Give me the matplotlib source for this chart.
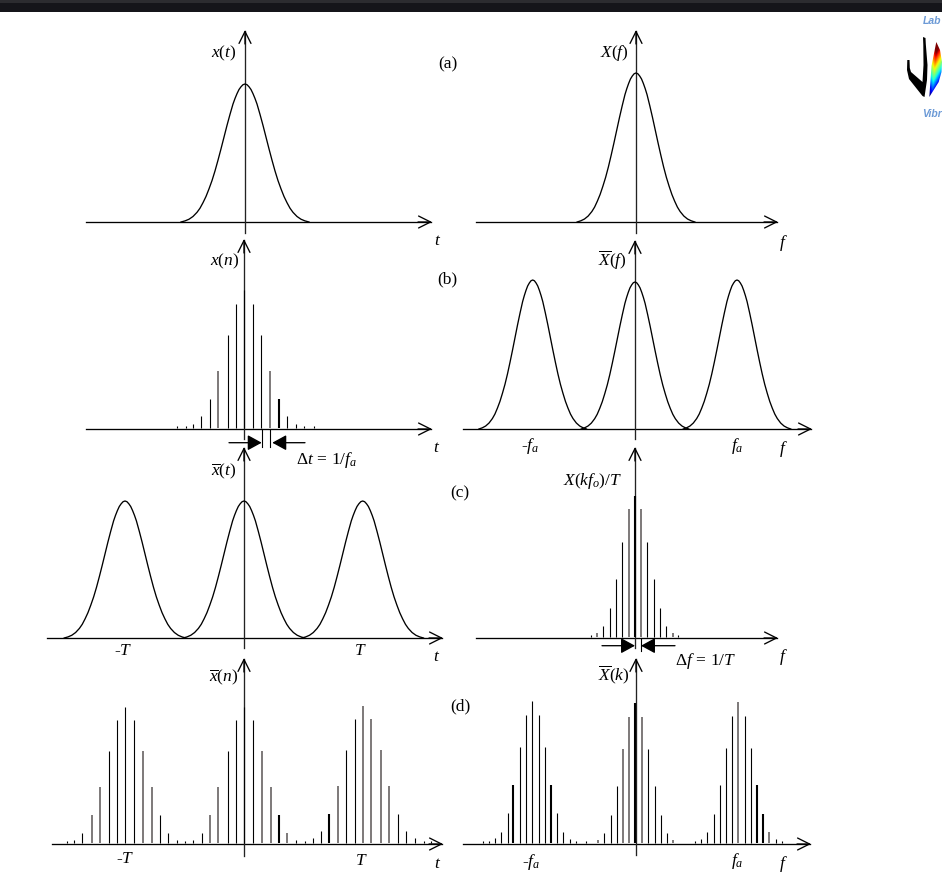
import numpy as np
import matplotlib
matplotlib.use("Agg")
import matplotlib.pyplot as plt
from matplotlib.patches import Polygon, Rectangle

plt.rcParams['font.family'] = ['Liberation Serif', 'DejaVu Serif']
plt.rcParams['mathtext.fontset'] = 'custom'
plt.rcParams['mathtext.rm'] = 'Liberation Serif'
plt.rcParams['mathtext.it'] = 'Liberation Serif:italic'
plt.rcParams['mathtext.bf'] = 'Liberation Serif:bold'

W, H = 942, 881

# one side of the pulse shape
pulse_dx = [0, 2, 4, 6, 8, 10, 12, 15, 18, 21, 24, 27, 30, 33, 36, 39, 42, 45, 48, 52, 56, 60, 64]
pulse_amp = [1, .995, .98, .96, .93, .895, .855, .78, .70, .615, .53, .448, .37, .30,
             .24, .185, .14, .10, .07, .04, .02, .008, 0]

xn_pos = [-67.5, -58.5, -51, -43, -33.5, -25.5, -16, -8, 0, 9, 17.5, 26.5, 35, 43, 52, 60, 70]
xn_val = [1, 1.5, 5, 13, 30, 58, 94, 125, 139, 125, 94, 58, 30, 13, 5, 1.5, 1]

Xk_pos = [-43.7, -37.7, -32, -25, -18.7, -12.7, -6, 0, 6.3, 12, 19.3, 25, 31, 37.7, 43]
Xk_val = [1, 5, 12, 30, 59, 96, 129, 142, 129, 96, 59, 30, 12, 5, 1]

xbar_pos = [-177.3, -169.7, -161.7, -152.3, -144.3, -134.7, -126.7, -118.7, -109.7, -101.3,
            -92.3, -83.7, -76, -66.7, -58.7, -50.7, -42.3, -33.7, -25.7, -16, -8, 0,
            9.3, 17.7, 27, 35, 43, 52, 60.7, 68.7, 76.7, 85, 93.7, 101.7, 111.3, 119.3,
            127.3, 136.7, 144.7, 154, 162.3, 170.7, 179.7, 187.3]
xbar_val = [1, 4, 11, 29, 57, 93, 124, 137, 124, 93, 57, 29, 11, 4, 1, 4, 11, 29, 57, 93, 124,
            137, 124, 93, 57, 29, 11, 4, 1.5, 6, 13, 30, 58, 94, 125, 138, 125, 94, 58, 30,
            13, 6, 1.5, 1]

Xbar_pos = [-153.3, -147.3, -141.3, -135.3, -128.3, -122.7, -116.3, -110.3, -104.3, -97.3,
            -91.3, -85, -79, -73.3, -66.3, -60.3, -50.3, -38, -32, -25.3, -19.3, -12.7,
            -6.7, -0.7, 6, 11.7, 18.7, 24.7, 30.7, 37.3, 58.7, 64.7, 70.7, 77.7, 83.7, 89.7,
            95.7, 102, 108.7, 114.7, 121, 127, 133, 139.7, 145.7]
Xbar_val = [1, 2, 6, 12, 31, 59, 97, 129, 143, 129, 97, 59, 31, 12, 5, 2, .5, 4, 11, 29, 58,
            95, 127, 141, 127, 95, 58, 29, 11, 4, 1, 5, 12, 30, 59, 96, 128, 142, 128, 96,
            59, 30, 12, 5, 1]

# stems that come out heavier or greyer in the scan
heavy_xn = [35]
grey_xn = [-25.5, 26.5]
heavy_xbar = [35, 85]
grey_xbar = [-152.3, -144.3, -101.3, -92.3, -33.7, -25.7, 17.7, 27, 43, 93.7, 119.3, 127.3, 136.7, 144.7]
heavy_Xk = [0]
grey_Xk = [-6, 6.3, -37.7, 37.7]
heavy_Xbar = [-122.7, -85, -0.7, 121, 127]
grey_Xbar = [-12.7, -6.7, 6, 37.3, -38, 102, 133]

fig = plt.figure(figsize=(W / 100, H / 100), dpi=100, facecolor='white')

LW = 0.95


def panel(x0, y0, left, right, top, bottom):
    # axes scaled 1:1 with the pixels, origin on the two drawn axes
    ax = fig.add_axes([left / W, 1 - bottom / H, (right - left) / W, (bottom - top) / H])
    ax.set_xlim(left - x0, right - x0)
    ax.set_ylim(y0 - bottom, y0 - top)
    ax.axis('off')
    ax.patch.set_alpha(0)
    ax.plot([left - x0, right - x0 - 1], [0, 0], color='black', lw=LW, clip_on=False)
    ax.plot([0, 0], [y0 - bottom, y0 - top - 1], color='#222222', lw=LW, clip_on=False)
    head = dict(arrowstyle='->,head_length=0.86,head_width=0.43', mutation_scale=10,
                lw=LW, color='black', shrinkA=0, shrinkB=0)
    ax.annotate('', xy=(right - x0, 0), xytext=(right - x0 - 14, 0), arrowprops=head)
    ax.annotate('', xy=(0, y0 - top), xytext=(0, y0 - top - 14), arrowprops=head)
    return ax


def pulse(ax, center, peak, xscale=1.0):
    dx = np.array(pulse_dx) * xscale
    amp = np.array(pulse_amp) * peak
    xs = np.concatenate([center - dx[::-1], center + dx[1:]])
    ys = np.concatenate([amp[::-1], amp[1:]])
    ax.plot(xs, ys, color='black', lw=LW)


def stems(ax, pos, val, heavy=(), grey=()):
    for p, v in zip(pos, val):
        lw, col = 0.8, 'black'
        if p in heavy:
            lw = 1.5
        if p in grey:
            col = '#5a5555'
            lw = 1.1
        ax.plot([p, p], [1.4, max(v, 3.2)], color=col, lw=lw, solid_capstyle='butt')


def label(x, y, s, size=12.5):
    fig.text(x / W, 1 - y / H, s, ha='center', va='center', fontsize=size, color='black')


def solid_arrow(ax, tip, start, y):
    ax.annotate('', xy=(tip, y), xytext=(start, y),
                arrowprops=dict(arrowstyle='-|>,head_length=0.86,head_width=0.47', mutation_scale=10,
                                lw=LW, color='black', fc='black', shrinkA=0, shrinkB=0), annotation_clip=False)


# (a)
ax = panel(245, 222, 86, 432, 30, 233)
pulse(ax, 0, 138)
ax = panel(636, 222, 476, 778, 30, 233)
pulse(ax, 0, 149, 0.92)

# (b)
ax = panel(244, 429, 86, 432, 239, 439)
stems(ax, xn_pos, xn_val, heavy_xn, grey_xn)
solid_arrow(ax, 17.7, -15, -13.7)
solid_arrow(ax, 28.3, 61, -13.7)
ax.plot([17.7, 17.7], [0, -17.7], color='black', lw=0.8, clip_on=False)
ax.plot([26.3, 26.3], [0, -17.7], color='black', lw=0.8, clip_on=False)

ax = panel(635, 429, 463, 812, 240, 439)
for c, p in zip([-102.3, 0, 102], [149, 147, 149]):
    pulse(ax, c, p, 0.84)

# (c)
ax = panel(244, 638, 47, 443, 447, 648)
for c, p in zip([-119, 0, 118.7], [137, 137, 137]):
    pulse(ax, c, p, 0.95)

ax = panel(635, 638, 476, 778, 447, 648)
stems(ax, Xk_pos, Xk_val, heavy_Xk, grey_Xk)
solid_arrow(ax, 0, -33, -7.7)
solid_arrow(ax, 6, 40, -7.7)
ax.plot([6, 6], [0, -13], color='black', lw=0.8, clip_on=False)

# (d)
ax = panel(244, 844, 52, 443, 658, 856)
stems(ax, xbar_pos, xbar_val, heavy_xbar, grey_xbar)
ax = panel(636, 844, 463, 811, 658, 855)
stems(ax, Xbar_pos, Xbar_val, heavy_Xbar, grey_Xbar)

# labels
label(224, 53, r'$x(t)$')
label(438, 241, r'$t$')
label(448, 64, '(a)')
label(614, 53, r'$X(f)$')
label(783, 243, r'$f$')

label(225, 261, r'$x(n)$')
label(447, 279, '(b)')
label(612, 260, r'$\overline{X}(f)$')
label(437, 448, r'$t$')
label(326, 460, r'$\Delta t\,=\,1/f_a$')
label(530, 446, r'-$f_a$')
label(737, 446, r'$f_a$')
label(783, 449, r'$f$')

label(224, 471, r'$\overline{x}(t)$')
label(460, 493, '(c)')
label(593, 481, r'$X(kf_o)/T$')
label(123, 651, r'-$T$')
label(360, 651, r'$T$')
label(437, 657, r'$t$')
label(706, 661, r'$\Delta f\,=\,1/T$')
label(783, 657, r'$f$')

label(224, 677, r'$\overline{x}(n)$')
label(460, 706, '(d)')
label(614, 675, r'$\overline{X}(k)$')
label(125, 859, r'-$T$')
label(361, 861, r'$T$')
label(438, 864, r'$t$')
label(531, 862, r'-$f_a$')
label(737, 861, r'$f_a$')
label(783, 864, r'$f$')

# window bar across the top of the screenshot
fig.add_artist(Rectangle((0, 1 - 11.5 / H), 1, 11.5 / H, transform=fig.transFigure, fc='#15151a', ec='none'))
fig.add_artist(Rectangle((0, 1 - 3 / H), 1, 3 / H, transform=fig.transFigure, fc='#2c2c30', ec='none'))

# logo in the corner
logo = fig.add_axes([900 / W, 1 - 125 / H, 42 / W, 110 / H])
logo.axis('off')
glyph = Polygon([[923, 37], [925.5, 38], [925.8, 44], [927.5, 65], [927, 80], [924.5, 97], [922.5, 96],
                 [909, 79], [907, 70], [907.3, 60], [909.5, 60], [909.8, 68], [911, 72], [922.5, 82],
                 [923.5, 65], [923.3, 45]], closed=True, fc='black', ec='none')
logo.add_patch(glyph)
xx, yy = np.meshgrid(np.linspace(929, 942, 40), np.linspace(42, 98, 80))
shade = 1 - (yy - 42) / 58 - np.abs(xx - 935.5 + (yy - 60) * 0.1) * 0.035
im = logo.imshow(shade, cmap='jet', extent=[929, 942, 98, 42], aspect='auto', vmin=0.02, vmax=0.82)
fan = Polygon([[929.3, 97], [931.5, 66], [936.3, 42], [940, 50], [942, 62], [941.5, 72], [938.7, 82]],
              closed=True, transform=logo.transData, fc='none', ec='none')
logo.add_patch(fan)
im.set_clip_path(fan)
logo.set_xlim(900, 942)
logo.set_ylim(125, 15)
fig.text(932, H - 21, 'Lab', transform=None, ha='center', va='center', fontsize=7.5,
         fontweight='bold', fontstyle='italic', color='#6c9ad6', family='Liberation Sans')
fig.text(932, H - 114, 'Vibr', transform=None, ha='center', va='center', fontsize=7.5,
         fontweight='bold', fontstyle='italic', color='#6c9ad6', family='Liberation Sans')

fig.savefig('out.png', dpi=100, facecolor='white')
